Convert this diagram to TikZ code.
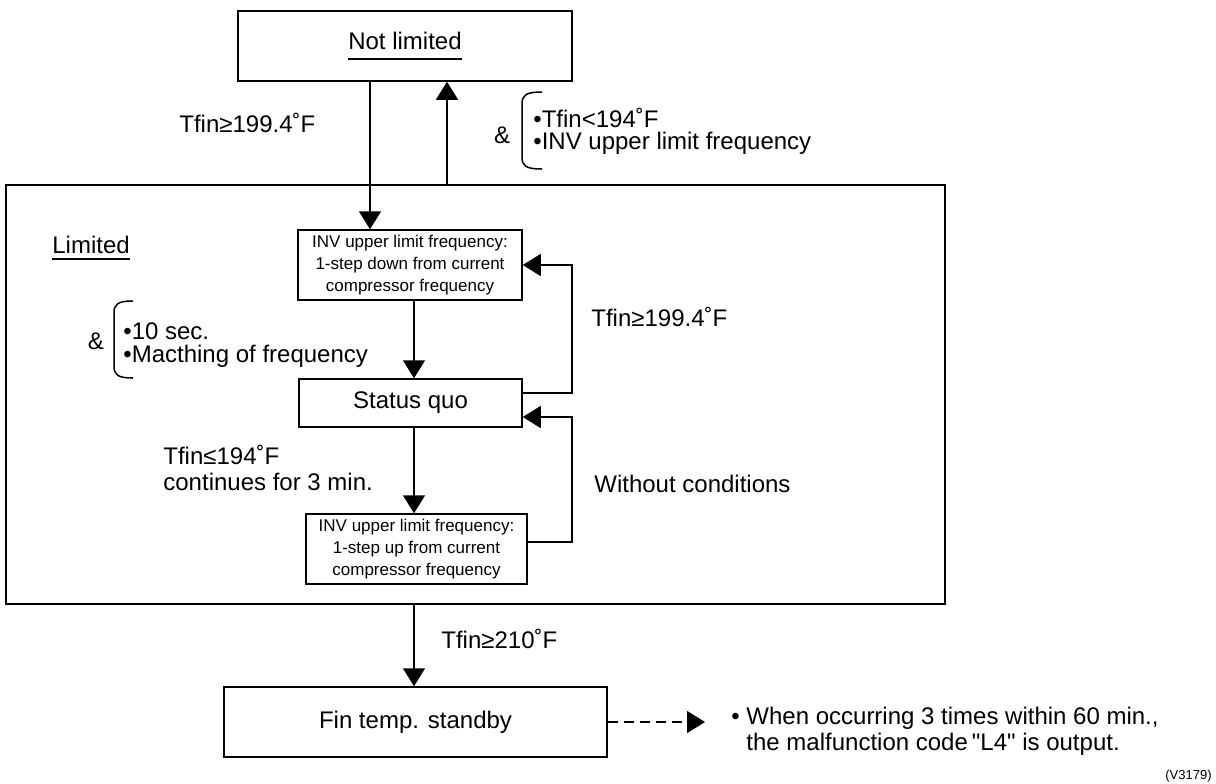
\documentclass[tikz,border=0pt]{standalone}
\usepackage{fontspec}
\setmainfont{Liberation Sans}
\usetikzlibrary{arrows.meta}

% underline set a given distance below the baseline
\newcommand{\undl}[2]{\setbox0=\hbox{#2}\rlap{\rule[-#1]{\wd0}{0.9pt}}\box0}

\begin{document}
\begin{tikzpicture}[x=0.5pt, y=-0.5pt,
        statebox/.style={draw, line width=0.75pt, align=center, inner sep=0pt, font=\fontsize{12}{13}\selectfont},
        smallbox/.style={statebox, font=\fontsize{8.5}{10.8}\selectfont},
        limframe/.style={draw, line width=0.9pt, inner sep=0pt},
        lbl/.style={inner sep=0pt, anchor=base west, font=\fontsize{12}{13}\selectfont},
        condlist/.style={inner sep=0pt, anchor=north west, align=left, font=\fontsize{12}{11.3}\selectfont},
        brace/.style={line width=0.75pt},
        flow/.style={-{Triangle[length=9pt, width=11pt]}, line width=0.75pt},
        dashflow/.style={flow, dash pattern=on 5pt off 3pt}
    ]
    \useasboundingbox (0,0) rectangle (1216,783);

    % states
    \node[statebox, minimum width=167pt, minimum height=35pt] (notlim) at (405,46) {\undl{5.4pt}{Not limited}};
    \node[limframe, minimum width=469.5pt, minimum height=209.5pt] (lim) at (475.5,394.5) {};
    \node[lbl] (limtxt) at (52,253) {\undl{3.4pt}{Limited}};
    \node[smallbox, minimum width=112pt, minimum height=35pt] (down) at (410,265) {INV upper limit frequency:\\1-step down from current\\compressor frequency};
    \node[statebox, minimum width=111.5pt, minimum height=24pt] (status) at (410.5,403) {Status quo};
    \node[smallbox, minimum width=110.5pt, minimum height=35pt] (up) at (416.5,549) {INV upper limit frequency:\\1-step up from current\\compressor frequency};
    \node[statebox, minimum width=191.5pt, minimum height=35pt] (fin) at (415.5,722) {Fin temp. standby};

    % conditions
    \node[lbl] (c1) at (179,132) {Tfin≥199.4˚F};
    \node[inner sep=0pt, font=\fontsize{12}{13}\selectfont] (amp1) at (502,135) {\&};
    \draw[brace] (542,92) .. controls (526,92) and (522,95) .. (522,104) -- (522,157) .. controls (522,166) and (526,169) .. (542,169);
    \node[condlist] (c2) at (533,107.5) {•Tfin<194˚F\\•INV upper limit frequency};
    \node[lbl] (c3) at (591,326) {Tfin≥199.4˚F};
    \node[inner sep=0pt, font=\fontsize{12}{13}\selectfont] (amp2) at (96,341) {\&};
    \draw[brace] (133,301) .. controls (118,301) and (114,304) .. (114,313) -- (114,366) .. controls (114,375) and (118,378) .. (133,378);
    \node[condlist] (c4) at (123,322.5) {•10 sec.\\•Macthing of frequency};
    \node[condlist, font=\fontsize{12}{13}\selectfont] (c5) at (163,444.5) {Tfin≤194˚F\\continues for 3 min.};
    \node[lbl] (c6) at (594,492) {Without conditions};
    \node[lbl] (c7) at (441,648) {Tfin≥210˚F};
    \node[condlist, font=\fontsize{12}{13}\selectfont] (msg) at (731,706.5) {• When occurring 3 times within 60 min.,\\\hphantom{• }the malfunction code\,\textquotedbl L4\textquotedbl\ is output.};
    \node[inner sep=0pt, anchor=base east, font=\fontsize{6.5}{7}\selectfont] (fig) at (1212,779) {(V3179)};

    % connectors
    \coordinate (dnx) at (370,0);
    \coordinate (upx) at (447,0);
    \coordinate (midx) at (414,0);
    \coordinate (loopx) at (572,0);
    \coordinate (tip) at (705,722);
    \draw[flow] (notlim.south -| dnx) -- (down.north -| dnx);
    \draw[flow] (lim.north -| upx) -- (notlim.south -| upx);
    \draw[flow] (down.south -| midx) -- (status.north -| midx);
    \draw[flow] ([yshift=5pt]status.east) -- ([yshift=5pt]status.east -| loopx) |- (down.east);
    \draw[flow] (status.south -| midx) -- (up.north -| midx);
    \draw[flow] ([yshift=3.5pt]up.east) -- ([yshift=3.5pt]up.east -| loopx) |- ([yshift=-7pt]status.east);
    \draw[flow] (lim.south -| midx) -- (fin.north -| midx);
    \draw[dashflow] (fin.east) -- (tip);
\end{tikzpicture}
\end{document}
